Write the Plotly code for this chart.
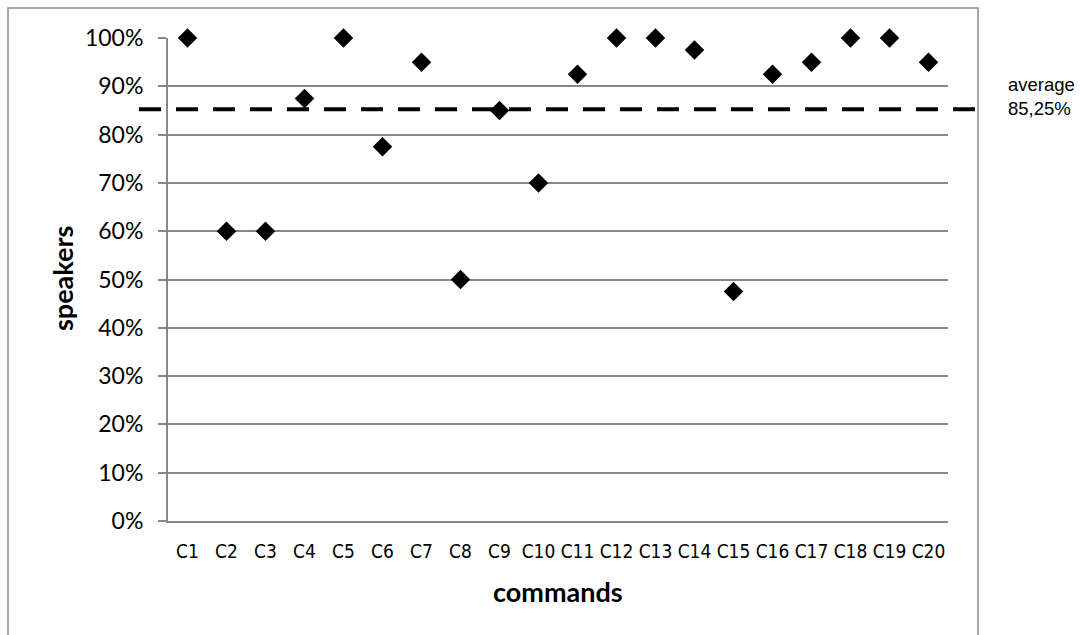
import plotly.graph_objects as go

commands = [f"C{i}" for i in range(1, 21)]
speakers = [100, 60, 60, 87.5, 100, 77.5, 95, 50, 85, 70,
            92.5, 100, 100, 97.5, 47.5, 92.5, 95, 100, 100, 95]
y_ticks = list(range(0, 101, 10))
y_tick_labels = [f"{v}%" for v in y_ticks]

average = sum(speakers) / len(speakers)
avg_label = f"average<br>{average:.2f}%".replace(".", ",")

L, R, T, B = 168, 948, 38, 521
W, H = 1080, 635
pw, ph = R - L, B - T

def px_x(p):
    return (p - L) / pw

def px_y(p):
    return (B - p) / ph

fig = go.Figure()
fig.add_trace(go.Scatter(
    x=commands, y=speakers, mode="markers",
    marker=dict(symbol="diamond", size=15, color="black"),
    showlegend=False, cliponaxis=False,
))

grid = "#878787"
fig.update_layout(
    width=W, height=H,
    margin=dict(l=L, r=W - R, t=T, b=H - B),
    plot_bgcolor="white", paper_bgcolor="white",
    font=dict(family="Lato, Arial", color="black"),
    xaxis=dict(
        type="category", range=[-0.5, 19.5], showgrid=False,
        showline=True, linecolor=grid, linewidth=2,
        ticks="", tickfont=dict(size=19, family="DejaVu Sans Condensed, Liberation Sans"),
        ticklabelstandoff=12,
    ),
    yaxis=dict(
        range=[0, 100], tickvals=y_ticks, ticktext=y_tick_labels,
        showgrid=True, gridcolor=grid, gridwidth=1.5,
        showline=True, linecolor=grid, linewidth=2,
        ticks="outside", ticklen=8, tickcolor=grid, tickwidth=1.5,
        tickfont=dict(size=23, family="Lato"),
        ticklabelstandoff=10, zeroline=False,
    ),
)

# axis titles
fig.add_annotation(xref="paper", yref="paper", x=px_x(62), y=px_y(279),
                   text="<b>speakers</b>", textangle=-90, showarrow=False,
                   xanchor="center", yanchor="middle",
                   font=dict(size=27, family="Lato"))
fig.add_annotation(xref="paper", yref="paper", x=px_x(558), y=px_y(591),
                   text="<b>commands</b>", showarrow=False,
                   xanchor="center", yanchor="middle",
                   font=dict(size=27, family="Lato"))

# outer chart border
fig.add_shape(type="rect", xref="paper", yref="paper",
              x0=px_x(8), x1=px_x(978), y0=px_y(700), y1=px_y(8),
              line=dict(color="#8c8c8c", width=1.5), fillcolor="rgba(0,0,0,0)", layer="below")

# average line
fig.add_shape(type="line", xref="paper", yref="y",
              x0=px_x(139), x1=px_x(978), y0=average, y1=average,
              line=dict(color="black", width=4, dash="22px,15px"))

fig.add_annotation(xref="paper", yref="y", x=px_x(1006), y=average,
                   text=avg_label, showarrow=False, xanchor="left", yanchor="middle",
                   yshift=13, align="left",
                   font=dict(size=18.5, family="Liberation Sans, Arial"))

fig.write_html("out.html")
